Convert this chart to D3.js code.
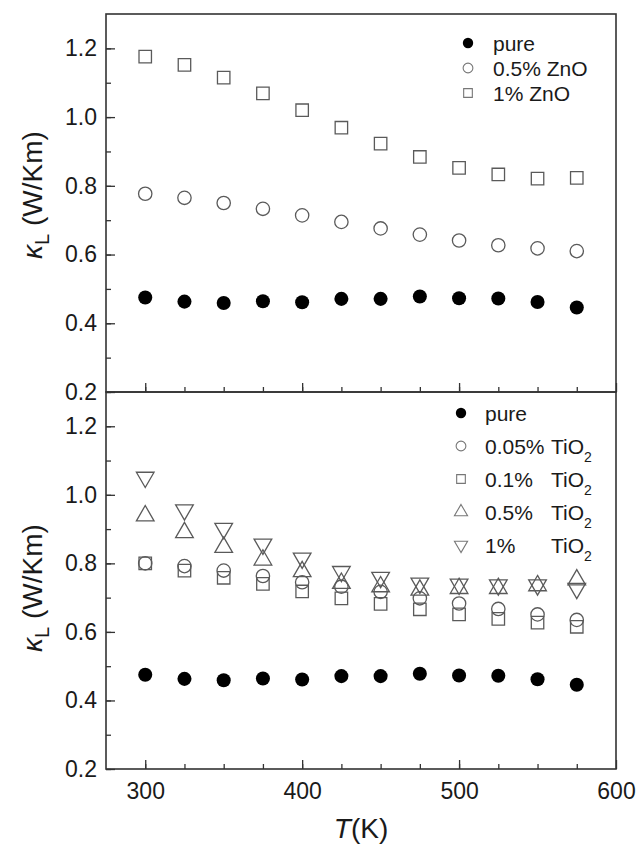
<!DOCTYPE html>
<html>
<head>
<meta charset="utf-8">
<script src="https://cdn.jsdelivr.net/npm/d3@7"></script>
<style>
  html, body { margin: 0; padding: 0; background: #fff; }
  text { font-family: "Liberation Sans", Arial, sans-serif; }
</style>
</head>
<body>
<script>
// temperatures (K)
const temps = [300, 325, 350, 375, 400, 425, 450, 475, 500, 525, 550, 575];

// kappa_L (W/Km)
const pure = [0.475, 0.463, 0.459, 0.464, 0.461, 0.471, 0.471, 0.478, 0.473, 0.472, 0.462, 0.446];
const zno05 = [0.777, 0.765, 0.75, 0.733, 0.714, 0.695, 0.676, 0.658, 0.641, 0.627, 0.618, 0.61];
const zno1 = [1.176, 1.152, 1.115, 1.069, 1.02, 0.969, 0.923, 0.884, 0.852, 0.833, 0.821, 0.823];
const tio005 = [0.8, 0.792, 0.779, 0.763, 0.745, 0.732, 0.717, 0.698, 0.683, 0.667, 0.651, 0.635];
const tio01 = [0.8, 0.779, 0.758, 0.74, 0.718, 0.698, 0.682, 0.666, 0.651, 0.638, 0.627, 0.615];
const tio05 = [0.939, 0.89, 0.847, 0.81, 0.776, 0.742, 0.732, 0.722, 0.727, 0.727, 0.735, 0.752];
const tio1 = [1.051, 0.956, 0.902, 0.856, 0.815, 0.776, 0.759, 0.742, 0.739, 0.737, 0.737, 0.727];

const xTicks = [300, 400, 500, 600];
const yTicks = [0.2, 0.4, 0.6, 0.8, 1.0, 1.2];

const W = 641, H = 845;
const left = 106, right = 616;
const panels = [
  { top: 14, bottom: 392, titleY: 195 },
  { top: 392, bottom: 769, titleY: 588 },
];

const svg = d3.select("body").append("svg")
  .attr("width", W).attr("height", H);

const x = d3.scaleLinear().domain([275, 600]).range([left, right]);

const markerStroke = "#5a5a5a";
const frame = "#333";
const ink = "#1a1a1a";

const shapes = {
  dot: d3.symbol().type(d3.symbolCircle).size(155),
  circle: d3.symbol().type(d3.symbolCircle).size(140),
  square: d3.symbol().type(d3.symbolSquare).size(155),
  up: d3.symbol().type(d3.symbolTriangle).size(135),
  down: d3.symbol().type(d3.symbolTriangle).size(135),
};

const drawSeries = (g, y, values, kind) => {
  g.append("g")
    .selectAll("path")
    .data(values)
    .enter()
    .append("path")
    .attr("d", shapes[kind]())
    .attr("transform", (d, i) =>
      "translate(" + x(temps[i]) + "," + y(d) + ")" + (kind === "down" ? " rotate(180)" : ""))
    .attr("fill", kind === "dot" ? "#000" : "none")
    .attr("stroke", kind === "dot" ? "none" : markerStroke)
    .attr("stroke-width", 1.3);
};

const legendMark = (g, px, py, kind) => {
  const small = d3.symbol()
    .type(kind === "square" ? d3.symbolSquare : kind === "up" || kind === "down" ? d3.symbolTriangle : d3.symbolCircle)
    .size(kind === "dot" ? 85 : 75);
  g.append("path")
    .attr("d", small())
    .attr("transform", "translate(" + px + "," + py + ")" + (kind === "down" ? " rotate(180)" : ""))
    .attr("fill", kind === "dot" ? "#000" : "none")
    .attr("stroke", kind === "dot" ? "none" : "#777")
    .attr("stroke-width", 1.1);
};

panels.forEach((p, k) => {
  const y = d3.scaleLinear().domain([0.2, 1.3]).range([p.bottom, p.top]);
  const g = svg.append("g");

  // y axis: inward ticks
  const yAx = g.append("g")
    .attr("transform", "translate(" + left + ",0)")
    .call(d3.axisLeft(y).tickValues(d3.range(0.2, 1.25, 0.1)).tickSize(-5).tickFormat(""));
  yAx.select(".domain").remove();
  yAx.selectAll("line").attr("stroke", frame).attr("stroke-width", 1.3);

  const yMaj = g.append("g")
    .attr("transform", "translate(" + left + ",0)")
    .call(d3.axisLeft(y).tickValues(yTicks).tickSize(-9).tickPadding(9).tickFormat(d3.format(".1f")));
  yMaj.select(".domain").remove();
  yMaj.selectAll("line").attr("stroke", frame).attr("stroke-width", 1.3);
  yMaj.selectAll("text")
    .attr("font-size", 23)
    .attr("fill", ink)
    .attr("font-family", "'Liberation Sans', Arial, sans-serif");

  // x ticks along the bottom of each panel
  const xMin = g.append("g")
    .attr("transform", "translate(0," + p.bottom + ")")
    .call(d3.axisBottom(x).tickValues(d3.range(300, 600, 25)).tickSize(-5).tickFormat(""));
  xMin.select(".domain").remove();
  xMin.selectAll("line").attr("stroke", frame).attr("stroke-width", 1.3);

  const xMaj = g.append("g")
    .attr("transform", "translate(0," + p.bottom + ")")
    .call(d3.axisBottom(x).tickValues(xTicks).tickSize(-9).tickPadding(14)
      .tickFormat(k === 1 ? d3.format("d") : ""));
  xMaj.select(".domain").remove();
  xMaj.selectAll("line").attr("stroke", frame).attr("stroke-width", 1.3);
  xMaj.selectAll("text")
    .attr("font-size", 23)
    .attr("fill", ink)
    .attr("font-family", "'Liberation Sans', Arial, sans-serif");

  // frame
  g.append("rect")
    .attr("x", left).attr("y", p.top)
    .attr("width", right - left).attr("height", p.bottom - p.top)
    .attr("fill", "none")
    .attr("stroke", frame)
    .attr("stroke-width", 1.6);

  // y title
  const yt = g.append("text")
    .attr("transform", "translate(42," + p.titleY + ") rotate(-90)")
    .attr("text-anchor", "middle")
    .attr("font-size", 28)
    .attr("fill", ink);
  yt.append("tspan").attr("font-style", "italic").text("κ");
  yt.append("tspan").attr("font-size", 20).attr("dy", 7).text("L");
  yt.append("tspan").attr("dy", -7).text(" (W/Km)");

  if (k === 0) {
    drawSeries(g, y, zno1, "square");
    drawSeries(g, y, zno05, "circle");
    drawSeries(g, y, pure, "dot");

    const rows = [["dot", "pure"], ["circle", "0.5% ZnO"], ["square", "1% ZnO"]];
    rows.forEach((r, i) => {
      const ly = 43 + i * 25;
      legendMark(g, 468, ly, r[0]);
      g.append("text")
        .attr("x", 493).attr("y", ly + 8)
        .attr("font-size", 21)
        .attr("fill", ink)
        .text(r[1]);
    });
  } else {
    drawSeries(g, y, tio01, "square");
    drawSeries(g, y, tio005, "circle");
    drawSeries(g, y, tio05, "up");
    drawSeries(g, y, tio1, "down");
    drawSeries(g, y, pure, "dot");

    const rows = [["dot", "pure"], ["circle", "0.05%"], ["square", "0.1%"], ["up", "0.5%"], ["down", "1%"]];
    rows.forEach((r, i) => {
      const ly = 413 + i * 33;
      legendMark(g, 461, ly, r[0]);
      g.append("text")
        .attr("x", 485).attr("y", ly + 8)
        .attr("font-size", 21)
        .attr("fill", ink)
        .text(r[1]);
      if (i > 0) {
        const t = g.append("text")
          .attr("x", 551).attr("y", ly + 8)
          .attr("font-size", 21)
          .attr("fill", ink);
        t.append("tspan").text("TiO");
        t.append("tspan").attr("font-size", 14).attr("dy", 8).text("2");
      }
    });
  }
});

// x title
const xt = svg.append("text")
  .attr("x", (left + right) / 2)
  .attr("y", 838)
  .attr("text-anchor", "middle")
  .attr("font-size", 28)
  .attr("fill", ink);
xt.append("tspan").attr("font-style", "italic").text("T");
xt.append("tspan").text("(K)");
</script>
</body>
</html>
